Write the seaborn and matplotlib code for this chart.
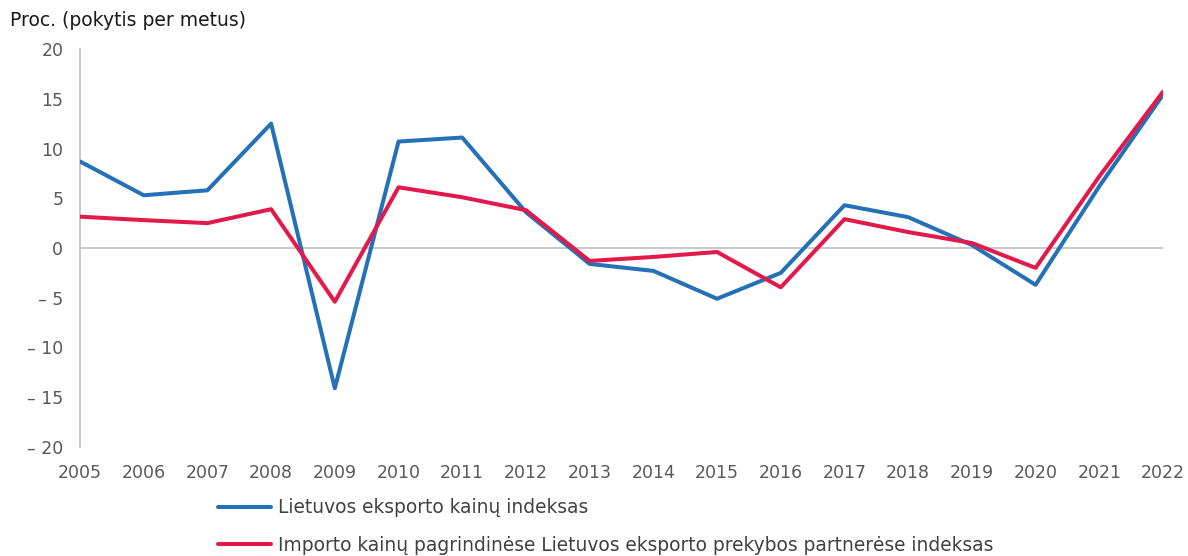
import matplotlib
matplotlib.use("Agg")
import matplotlib.pyplot as plt
import seaborn as sns
import pandas as pd
from matplotlib.lines import Line2D

years = list(range(2005, 2023))
export_idx = [8.7, 5.3, 5.8, 12.5, -14.1, 10.7, 11.1, 3.6, -1.6, -2.3, -5.1, -2.5, 4.3, 3.1, 0.3, -3.7, 6.2, 15.4]
import_idx = [3.15, 2.8, 2.5, 3.9, -5.4, 6.1, 5.1, 3.8, -1.3, -0.9, -0.4, -3.95, 2.9, 1.6, 0.5, -2.0, 7.2, 15.7]
series_names = ["Lietuvos eksporto kainų indeksas",
                "Importo kainų pagrindinėse Lietuvos eksporto prekybos partnerėse indeksas"]
y_ticks = [20, 15, 10, 5, 0, -5, -10, -15, -20]
y_title = "Proc. (pokytis per metus)"

df = pd.DataFrame({
    "year": years * 2,
    "value": export_idx + import_idx,
    "series": [series_names[0]] * len(years) + [series_names[1]] * len(years),
})

sns.set_theme(style="white")
plt.rcParams['font.family'] = ['DejaVu Sans']

fig = plt.figure(figsize=(11.88, 5.56), dpi=100)
ax = fig.add_axes([80/1188, 1-447/556, (1163-80)/1188, (447-49)/556])

palette = {series_names[0]: "#2471b8", series_names[1]: "#e2194b"}
sns.lineplot(data=df, x="year", y="value", hue="series", palette=palette,
             linewidth=2.9, ax=ax, legend=False, zorder=3)

ax.axhline(0, color="#c8c8c8", lw=1.4, zorder=1)
ax.set_xlim(2005, 2022)
ax.set_ylim(-20, 20)
ax.set_xticks(years)
ax.set_xticklabels([str(y) for y in years], fontsize=12.5, color="#595959")
ax.set_yticks(y_ticks)
ax.set_yticklabels([("– " + str(abs(t))) if t < 0 else str(t) for t in y_ticks],
                   fontsize=12.5, color="#595959")
ax.tick_params(axis="both", length=0)
ax.tick_params(axis="y", pad=12)
ax.tick_params(axis="x", pad=12)
for s in ["top", "right", "bottom"]:
    ax.spines[s].set_visible(False)
ax.spines["left"].set_color("#c8c8c8")
ax.spines["left"].set_linewidth(1.4)
ax.set_xlabel("")
ax.set_ylabel("")
ax.grid(False)

fig.text(10/1188, 1-20/556, y_title, fontsize=13.5, color="#1a1a1a", va="center", ha="left")

handles = [Line2D([0], [0], color=palette[n], lw=2.9) for n in series_names]
leg = fig.legend(handles, series_names, loc="upper left",
                 bbox_to_anchor=(211/1188, 1-491/556), frameon=False,
                 fontsize=13.4, handlelength=2.8, handletextpad=0.38,
                 labelspacing=0.98, labelcolor="#404040",
                 borderaxespad=0, borderpad=0.4)

fig.savefig("out.png", dpi=100)
